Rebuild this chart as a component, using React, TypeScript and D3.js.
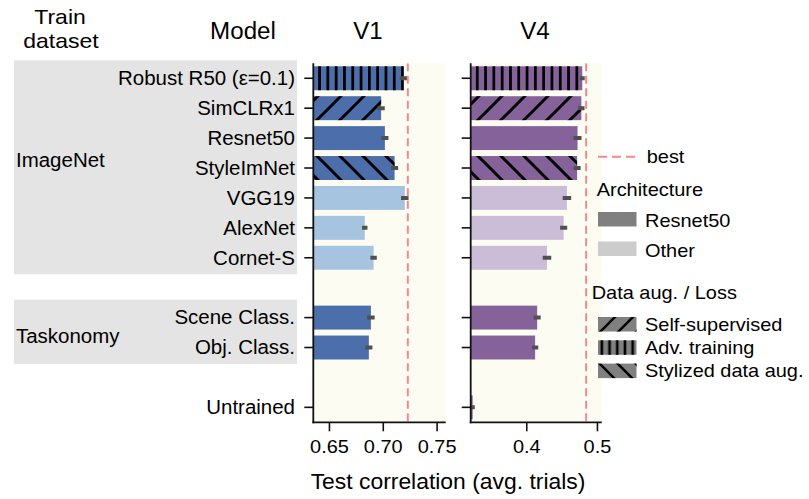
import React from "react";
import * as d3 from "d3";

// ---------- data ----------
const rowIds = ["robust", "simclr", "resnet50", "styleimnet", "vgg19", "alexnet", "cornet", "gapA", "scene", "obj", "gapB", "untrained"];
const rowLabels = ["Robust R50 (ε=0.1)", "SimCLRx1", "Resnet50", "StyleImNet", "VGG19", "AlexNet", "Cornet-S", "", "Scene Class.", "Obj. Class.", "", "Untrained"];
const architecture = ["Resnet50", "Resnet50", "Resnet50", "Resnet50", "Other", "Other", "Other", "", "Resnet50", "Resnet50", "", "Resnet50"];
const augmentation = ["adv", "ssl", "", "style", "", "", "", "", "", "", "", ""];

const v1Values = [0.719, 0.698, 0.7015, 0.7105, 0.72, 0.6828, 0.691, NaN, 0.6885, 0.6866, NaN, 0.55];
const v1Errors = [0.0037, 0.0034, 0.0033, 0.0033, 0.0035, 0.0025, 0.003, NaN, 0.0035, 0.0033, NaN, 0.003];
const v4Values = [0.4785, 0.4772, 0.4718, 0.4712, 0.4568, 0.4522, 0.4286, NaN, 0.4147, 0.4118, NaN, 0.3235];
const v4Errors = [0.0035, 0.0045, 0.0057, 0.005, 0.006, 0.005, 0.006, NaN, 0.005, 0.0045, NaN, 0.003];

const v1Best = 0.7228;
const v4Best = 0.484;
const v1Domain = [0.635, 0.758];
const v4Domain = [0.3207, 0.506];
const v1Ticks = [0.65, 0.7, 0.75];
const v1TickLabels = ["0.65", "0.70", "0.75"];
const v4Ticks = [0.4, 0.5];
const v4TickLabels = ["0.4", "0.5"];

const groupNames = ["ImageNet", "Taskonomy"];
const groupFirst = ["robust", "scene"];
const groupLast = ["cornet", "obj"];

const legendArch = ["Resnet50", "Other"];
const legendAug = ["ssl", "adv", "style"];
const legendAugLabels = ["Self-supervised", "Adv. training", "Stylized data aug."];

// ---------- styles ----------
const W = 809;
const H = 499;
const FONT = "'Liberation Sans', Arial, Helvetica, sans-serif";
const SX = 1.05;
const plotTop = 63.3;
const plotBottom = 422.3;
const groupLabelDy: Record<string, number> = { ImageNet: -7, Taskonomy: 4 };

const y = d3
  .scaleBand<string>()
  .domain(rowIds)
  .range([plotTop, plotBottom])
  .paddingInner(0.2)
  .paddingOuter(0.1);

function T({ x, y: yy, size, anchor = "start", dy, fill = "#000", sx = SX, children }: any) {
  return (
    <text
      transform={`translate(${x},${yy}) scale(${sx},1)`}
      fontSize={size}
      textAnchor={anchor}
      fontFamily={FONT}
      fill={fill}
      dy={dy}
    >
      {children}
    </text>
  );
}

function Panel({ id, values, errors, domain, x0, x1, ticks, tickLabels, best, dark, light, title, titleX }: any) {
  const x = d3.scaleLinear().domain(domain).range([x0, x1]);
  const cy = (k: string) => (y(k) as number) + y.bandwidth() / 2;
  return (
    <g>
      <defs>
        <clipPath id={`clip-${id}`}>
          <rect x={x0} y={plotTop} width={x1 - x0} height={plotBottom - plotTop} />
        </clipPath>
      </defs>
      <rect x={x0} y={plotTop} width={x1 - x0} height={plotBottom - plotTop} fill="#fcfcf2" />
      <g clipPath={`url(#clip-${id})`}>
        {rowIds.map((k, i) => {
          const v = values[i];
          if (!isFinite(v)) return null;
          const col = architecture[i] === "Other" ? light : dark;
          const w = Math.max(0, x(v) - x0);
          return (
            <g key={k}>
              <rect x={x0} y={y(k)} width={w} height={y.bandwidth()} fill={col} />
              {augmentation[i] && (
                <rect x={x0} y={y(k)} width={w} height={y.bandwidth()} fill={`url(#h-${augmentation[i]})`} />
              )}
            </g>
          );
        })}
        {rowIds.map((k, i) => {
          const v = values[i];
          const e = errors[i];
          if (!isFinite(v)) return null;
          return (
            <line key={k} x1={x(v - e)} x2={x(v + e)} y1={cy(k)} y2={cy(k)} stroke="#505050" strokeWidth={4} />
          );
        })}
        <line x1={x(best)} x2={x(best)} y1={plotTop} y2={plotBottom} stroke="#f08a8f" strokeWidth={2} strokeDasharray="8,4.5" />
      </g>
      {rowIds.map((k, i) =>
        rowLabels[i] ? (
          <line key={k} x1={x0 - 9} x2={x0} y1={cy(k)} y2={cy(k)} stroke="#111" strokeWidth={1.6} />
        ) : null
      )}
      <line x1={x0} x2={x0} y1={plotTop} y2={plotBottom + 0.9} stroke="#111" strokeWidth={1.8} />
      <line x1={x0 - 0.9} x2={x1} y1={plotBottom} y2={plotBottom} stroke="#111" strokeWidth={1.8} />
      {ticks.map((t: number, i: number) => (
        <g key={t}>
          <line x1={x(t)} x2={x(t)} y1={plotBottom} y2={plotBottom + 9} stroke="#111" strokeWidth={1.6} />
          <T x={x(t)} y={453} size={19} anchor="middle">
            {tickLabels[i]}
          </T>
        </g>
      ))}
      <T x={titleX} y={38.5} size={23} anchor="middle">
        {title}
      </T>
    </g>
  );
}

export default function App() {
  const cy = (k: string) => (y(k) as number) + y.bandwidth() / 2;
  const step = y.step();
  return (
    <svg
      width={W}
      height={H}
      viewBox={`0 0 ${W} ${H}`}
      style={{ position: "absolute", left: 0, top: 0, background: "#fff" }}
    >
      <defs>
        <pattern id="h-adv" patternUnits="userSpaceOnUse" width={8.3} height={10}>
          <line x1={4.15} x2={4.15} y1={-1} y2={11} stroke="#000" strokeWidth={2.8} />
        </pattern>
        <pattern id="h-ssl" patternUnits="userSpaceOnUse" width={23} height={23}>
          <path d="M0,23 l23,-23 M-5.75,5.75 l11.5,-11.5 M17.25,28.75 l11.5,-11.5" stroke="#000" strokeWidth={3} />
        </pattern>
        <pattern id="h-style" patternUnits="userSpaceOnUse" width={23} height={23}>
          <path d="M0,0 l23,23 M-5.75,17.25 l11.5,11.5 M17.25,-5.75 l11.5,11.5" stroke="#000" strokeWidth={3} />
        </pattern>
        <pattern id="l-adv" patternUnits="userSpaceOnUse" width={7.7} height={10} x={598}>
          <line x1={3.85} x2={3.85} y1={-1} y2={11} stroke="#000" strokeWidth={2.6} />
        </pattern>
        <pattern id="l-ssl" patternUnits="userSpaceOnUse" width={18} height={18} x={598} y={316}>
          <path d="M0,18 l18,-18 M-4.5,4.5 l9,-9 M13.5,22.5 l9,-9" stroke="#000" strokeWidth={2.6} />
        </pattern>
        <pattern id="l-style" patternUnits="userSpaceOnUse" width={18} height={18} x={598} y={362}>
          <path d="M0,0 l18,18 M-4.5,13.5 l9,9 M13.5,-4.5 l9,9" stroke="#000" strokeWidth={2.6} />
        </pattern>
      </defs>

      {groupNames.map((g, i) => {
        const top = cy(groupFirst[i]) - 0.6 * step;
        const bot = cy(groupLast[i]) + 0.55 * step;
        return (
          <g key={g}>
            <rect x={14} y={top} width={283} height={bot - top} fill="#e4e4e4" />
            <T x={16} y={(top + bot) / 2 + (groupLabelDy[g] || 0)} size={19.5} dy="0.35em">
              {g}
            </T>
          </g>
        );
      })}

      {rowIds.map((k, i) =>
        rowLabels[i] ? (
          <T key={k} x={295} y={cy(k)} size={19.5} anchor="end" dy="0.35em">
            {rowLabels[i]}
          </T>
        ) : null
      )}

      <T x={60} y={24} size={20} sx={1.15} anchor="middle">Train</T>
      <T x={61} y={47.5} size={20} sx={1.15} anchor="middle">dataset</T>
      <T x={243} y={38.5} size={23} anchor="middle">Model</T>

      <Panel
        id="v1"
        values={v1Values}
        errors={v1Errors}
        domain={v1Domain}
        x0={313.3}
        x1={445.7}
        ticks={v1Ticks}
        tickLabels={v1TickLabels}
        best={v1Best}
        dark="#4c6eaa"
        light="#a6c3df"
        title="V1"
        titleX={368}
      />
      <Panel
        id="v4"
        values={v4Values}
        errors={v4Errors}
        domain={v4Domain}
        x0={470.7}
        x1={601.7}
        ticks={v4Ticks}
        tickLabels={v4TickLabels}
        best={v4Best}
        dark="#86629a"
        light="#cbbcd8"
        title="V4"
        titleX={535}
      />

      <T x={448} y={488.5} size={21.8} anchor="middle">Test correlation (avg. trials)</T>

      <line x1={598} x2={636} y1={156.7} y2={156.7} stroke="#f08a8f" strokeWidth={2} strokeDasharray="9,5" />
      <T x={646.7} y={163} size={19}>best</T>
      <T x={596.7} y={195.5} size={19}>Architecture</T>
      {legendArch.map((a, i) => (
        <g key={a}>
          <rect x={598} y={212 + i * 29.5} width={38.5} height={14.5} fill={a === "Other" ? "#cccccc" : "#808080"} />
          <T x={645} y={227 + i * 29.5} size={19}>{a}</T>
        </g>
      ))}
      <T x={591.7} y={298.5} size={19}>Data aug. / Loss</T>
      {legendAug.map((a, i) => (
        <g key={a}>
          <rect x={598} y={317 + i * 23.3} width={38.5} height={14.5} fill="#808080" />
          <rect x={598} y={317 + i * 23.3} width={38.5} height={14.5} fill={`url(#l-${a})`} />
          <T x={645} y={330.8 + i * 23.3} size={19}>{legendAugLabels[i]}</T>
        </g>
      ))}
    </svg>
  );
}
